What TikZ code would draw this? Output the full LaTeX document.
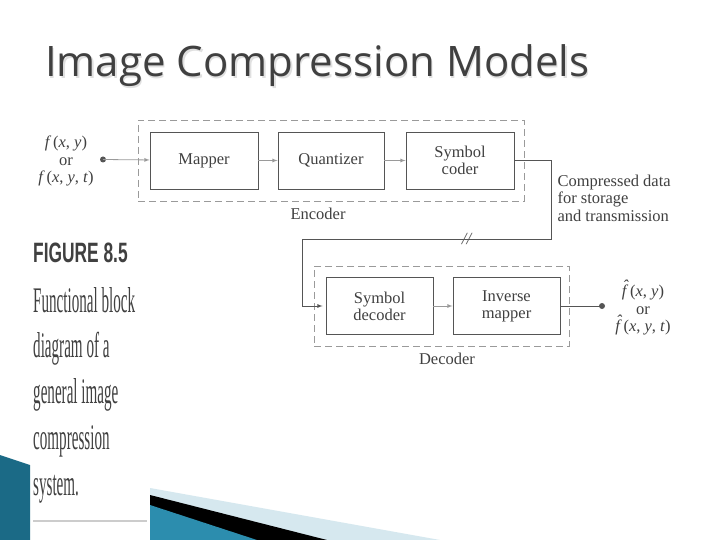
\documentclass[tikz,border=0pt]{standalone}
\usepackage{fontspec}
\setmainfont{Liberation Serif}
\newfontfamily\titlefont{Open Sans}
\newfontfamily\figfont{Liberation Sans}
\usetikzlibrary{arrows,positioning}

\definecolor{inkgray}{HTML}{404040}
\definecolor{boxgray}{HTML}{555555}
\definecolor{linegray}{HTML}{9A9A9A}
\definecolor{darkteal}{HTML}{1B6A86}
\definecolor{midteal}{HTML}{2C8DAE}
\definecolor{paleblue}{HTML}{D6E8EF}

\newcommand{\hatf}{\textit{f}\llap{\raisebox{0.3em}{\textit{\char"02C6}}\kern-0.02em}}
\newcommand{\fxy}{\textit{f}\kern0.1em(\textit{x}, \textit{y})}
\newcommand{\fxyt}{\textit{f}\kern0.1em(\textit{x}, \textit{y}, \textit{t})}
\newcommand{\hfxy}{\hatf\kern0.1em(\textit{x}, \textit{y})}
\newcommand{\hfxyt}{\hatf\kern0.1em(\textit{x}, \textit{y}, \textit{t})}

\tikzset{
  blk/.style={draw=boxgray,line width=0.9pt,minimum width=107,minimum height=57,
    font=\fontsize{16.5}{17}\selectfont,align=center,text=inkgray},
  grp/.style={draw=linegray,line width=0.9pt,dash pattern=on 7pt off 4pt},
  lbl/.style={font=\fontsize{16.5}{17.5}\selectfont,text=inkgray,align=center},
  flow/.style={-latex,draw=linegray,line width=0.8pt},
  wire/.style={draw=boxgray,line width=0.8pt},
  captxt/.style={anchor=base west,inner sep=0pt,text=inkgray}
}

\begin{document}
\begin{tikzpicture}[x=1pt,y=-1pt]
\useasboundingbox (0,0) rectangle (720,540);
\fill[white] (0,0) rectangle (720,540);

% title with its soft shadow
\node[anchor=base west,inner sep=0pt,text=black!12] at (46.5,78.5)
  {\titlefont\fontsize{42}{44}\selectfont Image Compression Models};
\node[anchor=base west,inner sep=0pt,text=inkgray] (title) at (45,77)
  {\titlefont\fontsize{42}{44}\selectfont Image Compression Models};

% caption on the left
\node[captxt] (fig) at (33,262) {\scalebox{0.62}[1]{\figfont\bfseries\fontsize{28}{30}\selectfont FIGURE 8.5}};
\node[captxt] (cap1) at (33,312) {\scalebox{0.42}[1]{\fontsize{36}{40}\selectfont Functional block}};
\node[captxt] (cap2) at (33,357) {\scalebox{0.42}[1]{\fontsize{36}{40}\selectfont diagram of a}};
\node[captxt] (cap3) at (33,403) {\scalebox{0.42}[1]{\fontsize{36}{40}\selectfont general image}};
\node[captxt] (cap4) at (33,449) {\scalebox{0.42}[1]{\fontsize{36}{40}\selectfont compression}};
\node[captxt] (cap5) at (33,495) {\scalebox{0.42}[1]{\fontsize{36}{40}\selectfont system.}};
\draw[black!20,line width=2pt] (33,521) -- (147,521);

% encoder
\node[grp,minimum width=386,minimum height=81] (enc) at (331,160.5) {};
\node[blk,minimum width=108] (map) at (204,160.5) {Mapper};
\node[blk,minimum width=106] (quant) at (331,160.5) {Quantizer};
\node[blk,minimum width=108] (scod) at (460,160.5) {Symbol\\coder};
\node[lbl] (enclbl) at (318,214) {Encoder};

% input
\fill[boxgray] (103,159.5) circle (3pt) coordinate (in);
\node[lbl] (fin) at (66,161) {\fxy\\or\\\fxyt};

% decoder
\node[grp,minimum width=255,minimum height=80] (dec) at (441.5,306) {};
\node[blk] (sdec) at (379.5,306) {Symbol\\decoder};
\node[blk] (imap) at (506.5,306) {Inverse\\mapper};
\node[lbl] (declbl) at (447,359) {Decoder};

% output
\fill[boxgray] (602,306) circle (3pt) coordinate (out);
\node[lbl] (fout) at (643,308) {\hfxy\\or\\\hfxyt};

\node[lbl,anchor=west,align=left] (chan) at (554,198) {Compressed data\\for storage\\and transmission};

% connectors
\draw[flow] (in) -- (map);
\draw[flow] (map) -- (quant);
\draw[flow] (quant) -- (scod);
\draw[wire] (scod.east) -- ++(37,0) coordinate (c1) -- (c1 |- 0,239) coordinate (c2)
  -- node[pos=0.34,inner sep=0pt,font=\fontsize{17}{17}\selectfont\itshape,text=boxgray] (brk) {//}
  (302,239) coordinate (c3) -- (c3 |- sdec.west);
\draw[flow,draw=boxgray,shorten >=3pt] (c3 |- sdec.west) -- (sdec.west);
\draw[flow] (sdec) -- (imap);
\draw[wire] (imap.east) -- (out);

% slide decoration at the bottom
\fill[darkteal] (0,455) -- (30,465) -- (30,540) -- (0,540) -- cycle;
\fill[paleblue] (150,488) -- (440,540) -- (150,540) -- cycle;
\fill[black] (150,495) -- (327,540) -- (150,540) -- cycle;
\fill[midteal] (150,505) -- (257,540) -- (150,540) -- cycle;
\end{tikzpicture}
\end{document}
